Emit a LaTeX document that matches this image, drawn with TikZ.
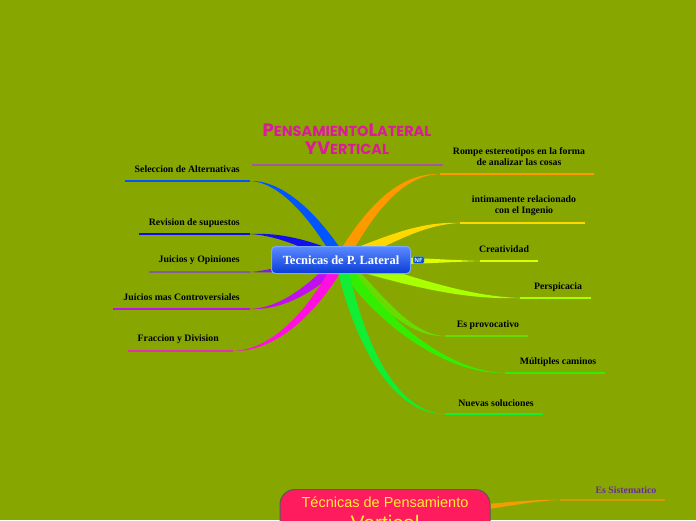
\documentclass[tikz,border=0pt]{standalone}
\usepackage{fontspec}
\setmainfont{Liberation Serif}
\newfontfamily\titlefont{Poppins}
\newfontfamily\vertfont{Liberation Sans}
\usetikzlibrary{calc,positioning,shapes}

\definecolor{bgolive}{HTML}{88A600}
\definecolor{titlemag}{HTML}{DC1A9E}
\definecolor{titleline}{HTML}{A05AA0}
\definecolor{maintop}{HTML}{5A8AFF}
\definecolor{mainbot}{HTML}{0A3CD8}
\definecolor{mainrim}{HTML}{7AA8FF}
\definecolor{vertpink}{HTML}{FF1C5E}
\definecolor{vertyel}{HTML}{FFEE33}
% branch colours
\definecolor{selcol}{HTML}{0055FF}
\definecolor{revcol}{HTML}{1010EE}
\definecolor{opicol}{HTML}{7A1AF0}
\definecolor{opiline}{HTML}{80609A}
\definecolor{concol}{HTML}{C010F0}
\definecolor{fracol}{HTML}{FF10E0}
\definecolor{fraline}{HTML}{E030B0}
\definecolor{rompcol}{HTML}{FF9900}
\definecolor{intcol}{HTML}{FFD800}
\definecolor{crecol}{HTML}{DDFF00}
\definecolor{percol}{HTML}{AAFF00}
\definecolor{procol}{HTML}{66DD00}
\definecolor{mulcol}{HTML}{33EE00}
\definecolor{nuecol}{HTML}{11EE33}
\definecolor{siscol}{HTML}{F09E00}
\definecolor{sisline}{HTML}{D49A00}
\definecolor{sistext}{HTML}{6A2AA0}

% fake small caps for the heading
\newcommand{\tsc}[2]{{\fontsize{18}{18}\selectfont #1}{\fontsize{14.5}{18}\selectfont #2}}

% tapered branch: [half width] colour, end, first control, second control
\newcommand{\branch}[5][6pt]{%
  \path ($(hub)!#1!90:(#3)$) coordinate (bu) ($(hub)!#1!-90:(#3)$) coordinate (bl);
  \fill[#2] (bu) .. controls ($#4+0.8*(bu)-0.8*(hub)$) and ($#5+0.3*(bu)-0.3*(hub)$) .. (#3)
    .. controls ($#5+0.3*(bl)-0.3*(hub)$) and ($#4+0.8*(bl)-0.8*(hub)$) .. (bl) -- cycle;
}

\tikzset{
  lbl/.style={font=\bfseries\fontsize{9.8}{11}\selectfont, inner sep=0pt, align=center},
  uline/.style={line width=1.2pt},
  mainnode/.style={rounded corners=4pt, draw=mainrim, line width=1pt,
    top color=maintop, bottom color=mainbot, text=white,
    font=\bfseries\fontsize{12.5}{14}\selectfont, minimum width=139pt, minimum height=27pt},
  nftag/.style={fill=blue!60!cyan!80!black, draw=mainrim, text=white, rounded corners=1pt,
    font=\sffamily\bfseries\fontsize{6}{6}\selectfont, inner sep=1.2pt},
  vnode/.style={rounded corners=15pt, draw=black!65, line width=1pt, fill=vertpink,
    text=vertyel, font=\vertfont\fontsize{14.5}{20}\selectfont, align=center,
    minimum width=210pt, inner ysep=7pt}
}

\begin{document}
\begin{tikzpicture}[x=1pt, y=-1pt]
  \useasboundingbox (0,0) rectangle (696,520);
  \fill[bgolive] (0,0) rectangle (696,520);

  % heading
  \node[font=\titlefont\bfseries\fontsize{14.5}{18}\selectfont, text=titlemag, align=center, inner sep=0pt] (title) at (347,139)
    {\tsc{P}{ENSAMIENTO}\tsc{L}{ATERAL}\\\tsc{Y}{}\tsc{V}{ERTICAL}};
  \coordinate (titleA) at (252,165);
  \coordinate (titleB) at (443,165);
  \draw[titleline, uline] (titleA) -- (titleB);

  \coordinate (hub) at (341,260);

  % left side
  \coordinate (selE) at (250,181);  \coordinate (selS) at (125,181);
  \coordinate (revE) at (250,234);  \coordinate (revS) at (139,234);
  \coordinate (opiE) at (250,272);  \coordinate (opiS) at (149,272);
  \coordinate (conE) at (250,309);  \coordinate (conS) at (113,309);
  \coordinate (fraE) at (233,351);  \coordinate (fraS) at (128,351);

  \branch{selcol}{selE}{(320,225)}{(285,181)}
  \branch{revcol}{revE}{(310,245)}{(280,234)}
  \branch{opicol}{opiE}{(300,265)}{(275,272)}
  \branch{concol}{conE}{(315,285)}{(285,309)}
  \branch{fracol}{fraE}{(320,300)}{(280,351)}

  \draw[selcol, uline] (selE) -- (selS);
  \draw[revcol, uline] (revE) -- (revS);
  \draw[opiline, uline] (opiE) -- (opiS);
  \draw[concol, uline] (conE) -- (conS);
  \draw[fraline, uline] (fraE) -- (fraS);

  \node[lbl, anchor=east] (sel) at (240,169) {Seleccion de Alternativas};
  \node[lbl, anchor=east] (rev) at (240,223) {Revision de supuestos};
  \node[lbl, anchor=east] (opi) at (240,260) {Juicios y Opiniones};
  \node[lbl, anchor=east] (con) at (240,297) {Juicios mas Controversiales};
  \node[lbl, anchor=east] (fra) at (219,339) {Fraccion y Division};

  % right side
  \coordinate (rompE) at (440,174); \coordinate (rompS) at (594,174);
  \coordinate (intE) at (460,223);  \coordinate (intS) at (585,223);
  \coordinate (creE) at (480,261);  \coordinate (creS) at (538,261);
  \coordinate (perE) at (520,298);  \coordinate (perS) at (591,298);
  \coordinate (proE) at (445,336);  \coordinate (proS) at (528,336);
  \coordinate (mulE) at (505,373);  \coordinate (mulS) at (605,373);
  \coordinate (nueE) at (445,414);  \coordinate (nueS) at (543,414);

  \branch{rompcol}{rompE}{(370,210)}{(400,174)}
  \branch{intcol}{intE}{(390,240)}{(420,223)}
  \branch[5pt]{crecol}{creE}{(400,261)}{(440,261)}
  \branch{percol}{perE}{(420,285)}{(470,298)}
  \branch{procol}{proE}{(380,300)}{(410,336)}
  \branch{mulcol}{mulE}{(370,310)}{(440,373)}
  \branch{nuecol}{nueE}{(355,330)}{(390,414)}

  \draw[rompcol, uline] (rompE) -- (rompS);
  \draw[intcol, uline] (intE) -- (intS);
  \draw[crecol, uline] (creE) -- (creS);
  \draw[percol, uline] (perE) -- (perS);
  \draw[procol, uline] (proE) -- (proS);
  \draw[mulcol, uline] (mulE) -- (mulS);
  \draw[nuecol, uline] (nueE) -- (nueS);

  \node[lbl] (romp) at (519,157) {Rompe estereotipos en la forma\\de analizar las cosas};
  \node[lbl] (int) at (524,206) {intimamente relacionado\\con el Ingenio};
  \node[lbl] (cre) at (504,249) {Creatividad};
  \node[lbl] (per) at (558,287) {Perspicacia};
  \node[lbl] (pro) at (488,325) {Es provocativo};
  \node[lbl] (mul) at (558,362) {Múltiples caminos};
  \node[lbl] (nue) at (496,403) {Nuevas soluciones};

  % central topic
  \node[mainnode] (main) at (hub) {Tecnicas de P. Lateral};
  \node[nftag, right=2pt of main] (nf) {NF};

  % vertical topic
  \coordinate (vhub) at (470,508);
  \coordinate (sisE) at (560,500);  \coordinate (sisS) at (665,500);
  \begin{scope}
    \coordinate (hub) at (vhub);
    \branch[3pt]{siscol}{sisE}{(500,506)}{(530,500)}
  \end{scope}
  \draw[sisline, uline] (sisE) -- (sisS);
  \node[lbl, text=sistext] (sis) at (626,490) {Es Sistematico};

  \node[vnode, anchor=north] (vert) at (385,489)
    {Técnicas de Pensamiento\\[3pt]{\fontsize{21}{21}\selectfont Vertical}};
\end{tikzpicture}
\end{document}
